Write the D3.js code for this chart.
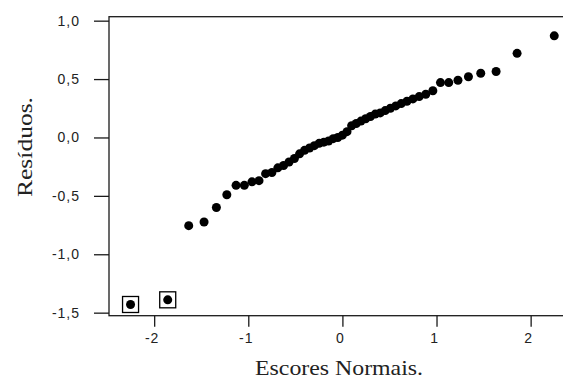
<!DOCTYPE html>
<html><head><meta charset="utf-8">
<script src="https://cdn.jsdelivr.net/npm/d3@7"></script>
<style>html,body{margin:0;padding:0;background:#fff;}svg{display:block;}</style>
</head><body>
<svg id="c" width="563" height="379"></svg>
<script>
// Normal scores (x) and ordered residuals (y)
const normalScores = [-2.251,-1.856,-1.633,-1.470,-1.339,-1.228,-1.130,-1.042,-0.961,-0.886,-0.816,-0.749,-0.686,-0.625,-0.567,-0.510,-0.455,-0.402,-0.349,-0.298,-0.247,-0.197,-0.147,-0.098,-0.049,0.000,0.049,0.098,0.147,0.197,0.247,0.298,0.349,0.402,0.455,0.510,0.567,0.625,0.686,0.749,0.816,0.886,0.961,1.042,1.130,1.228,1.339,1.470,1.633,1.856,2.251];
const residuals = [-1.43,-1.39,-0.755,-0.724,-0.60,-0.49,-0.41,-0.41,-0.38,-0.37,-0.31,-0.30,-0.26,-0.24,-0.21,-0.18,-0.14,-0.11,-0.09,-0.07,-0.05,-0.04,-0.03,-0.01,0.00,0.02,0.05,0.10,0.12,0.14,0.16,0.18,0.20,0.21,0.23,0.25,0.27,0.29,0.31,0.33,0.35,0.37,0.40,0.47,0.47,0.49,0.52,0.55,0.565,0.72,0.87];
const outlierIdx = [0, 1];
const xTicks = [-2, -1, 0, 1, 2];
const xTickLabels = ["-2", "-1", "0", "1", "2"];
const yTicks = [1.0, 0.5, 0.0, -0.5, -1.0, -1.5];
const yTickLabels = ["1,0", "0,5", "0,0", "-0,5", "-1,0", "-1,5"];
const xTitle = "Escores Normais.";
const yTitle = "Resíduos.";

const svg = d3.select("#c");
const L = 109, T = 16.7, B = 315.7, R = 570;
const x = d3.scaleLinear().domain([-2.48, 2.38]).range([L, 566.4]);
const y = d3.scaleLinear().domain([-1.526, 1.034]).range([B, T]);

// frame
svg.append("rect").attr("x", L).attr("y", T).attr("width", R - L).attr("height", B - T)
  .attr("fill", "none").attr("stroke", "#1a1a1a").attr("stroke-width", 1.3);

// y axis
const yAxis = d3.axisLeft(y).tickValues(yTicks)
  .tickFormat((d, i) => yTickLabels[i]).tickSize(15).tickPadding(14);
const gy = svg.append("g").attr("transform", `translate(${L},0)`).call(yAxis);
gy.select(".domain").remove();
gy.selectAll(".tick line").attr("stroke", "#1a1a1a").attr("stroke-width", 1.3);
gy.selectAll(".tick text").attr("font-family", "Liberation Sans, Arial, sans-serif")
  .attr("font-size", 14).attr("fill", "#222").attr("letter-spacing", 1);

// x axis
const xAxis = d3.axisBottom(x).tickValues(xTicks)
  .tickFormat((d, i) => xTickLabels[i]).tickSize(11).tickPadding(6);
const gx = svg.append("g").attr("transform", `translate(0,${B})`).call(xAxis);
gx.select(".domain").remove();
gx.selectAll(".tick line").attr("stroke", "#1a1a1a").attr("stroke-width", 1.3);
gx.selectAll(".tick text").attr("font-family", "Liberation Sans, Arial, sans-serif")
  .attr("font-size", 14).attr("fill", "#222").attr("dx", -2.5).attr("letter-spacing", 1);

// points
const pts = normalScores.map((v, i) => ({x: v, y: residuals[i]}));
svg.append("g").selectAll("circle").data(pts).join("circle")
  .attr("cx", d => x(d.x)).attr("cy", d => y(d.y)).attr("r", 4.5).attr("fill", "#000");

// outlier boxes
svg.append("g").selectAll("rect").data(outlierIdx.map(i => pts[i])).join("rect")
  .attr("x", d => x(d.x) - 8).attr("y", d => y(d.y) - 8)
  .attr("width", 16).attr("height", 16)
  .attr("fill", "none").attr("stroke", "#000").attr("stroke-width", 1.3);

// titles
svg.append("text").attr("x", 339).attr("y", 375).attr("text-anchor", "middle")
  .attr("font-family", "Liberation Serif, Times New Roman, serif").attr("font-size", 22)
  .attr("fill", "#222").attr("textLength", 168).attr("lengthAdjust", "spacingAndGlyphs")
  .text(xTitle);
svg.append("text").attr("transform", "translate(31.5,147) rotate(-90)")
  .attr("text-anchor", "middle")
  .attr("font-family", "Liberation Serif, Times New Roman, serif").attr("font-size", 22)
  .attr("fill", "#222").attr("textLength", 100).attr("lengthAdjust", "spacingAndGlyphs")
  .text(yTitle);
</script>
</body></html>
